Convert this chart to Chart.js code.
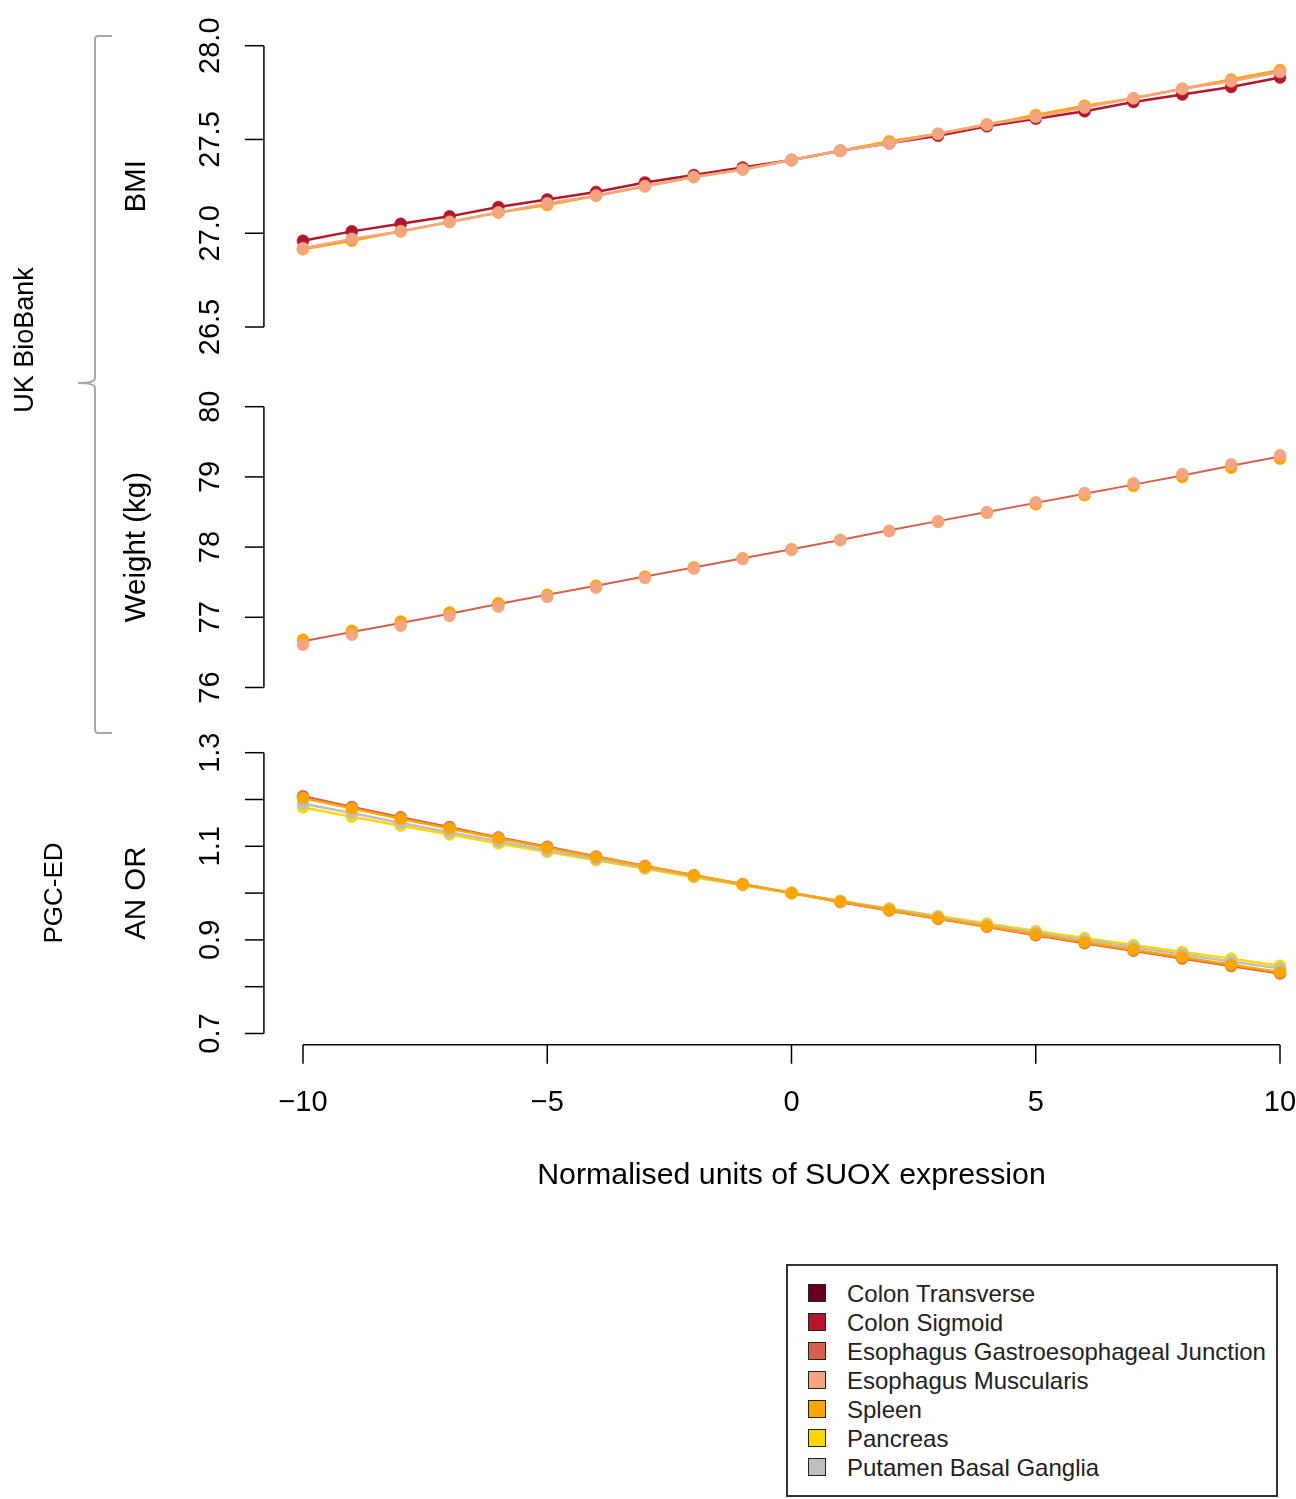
<!DOCTYPE html>
<html>
<head>
<meta charset="utf-8">
<script src="https://cdn.jsdelivr.net/npm/chart.js@4.4.1/dist/chart.umd.min.js"></script>
<style>
  html, body { margin: 0; padding: 0; background: #fff; }
  #wrap { position: relative; width: 1296px; height: 1499px; overflow: hidden; font-family: "Liberation Sans", Arial, Helvetica, sans-serif; }
  #wrap canvas { position: absolute; left: 0; top: 0; }
  #legend { position: absolute; left: 786px; top: 1264px; width: 492px; height: 233px; box-sizing: border-box; border: 2px solid #333; background: #fff; }
  .row { position: absolute; left: 0; height: 29px; width: 100%; }
  .sw { position: absolute; left: 20px; top: 5px; width: 18px; height: 18px; box-sizing: border-box; border: 1.5px solid #222; }
  .lab { position: absolute; left: 59px; top: 0; line-height: 29px; font-size: 24px; color: #222; white-space: nowrap; }
</style>
</head>
<body>
<div id="wrap">
  <canvas id="c1" width="1296" height="1499"></canvas>
  <canvas id="c2" width="1296" height="1499"></canvas>
  <canvas id="c3" width="1296" height="1499"></canvas>
  <div id="legend"></div>
</div>
<script>
// ---------------- data ----------------
const xValues = [-10,-9,-8,-7,-6,-5,-4,-3,-2,-1,0,1,2,3,4,5,6,7,8,9,10];
const xTicks = [-10,-5,0,5,10];
const xTickLabels = ['\u221210','\u22125','0','5','10'];
const xTitle = 'Normalised units of SUOX expression';

const tissues = ['Colon Transverse','Colon Sigmoid','Esophagus Gastroesophageal Junction','Esophagus Muscularis','Spleen','Pancreas','Putamen Basal Ganglia'];
const tissueColors = ['#67001F','#B2182B','#D6604D','#F4A582','#FFA500','#FFD700','#BEBEBE'];

// BMI panel
const bmiTicks = [26.5,27.0,27.5,28.0];
const bmiTickLabels = ['26.5','27.0','27.5','28.0'];
const bmiColonSigmoid = [26.96,27.01,27.05,27.09,27.14,27.18,27.22,27.27,27.31,27.35,27.39,27.44,27.48,27.52,27.57,27.61,27.65,27.70,27.74,27.78,27.83];
const bmiEsoMuscularis = [26.92,26.97,27.01,27.06,27.11,27.16,27.20,27.25,27.30,27.34,27.39,27.44,27.48,27.53,27.58,27.62,27.67,27.72,27.77,27.81,27.86];
const bmiSpleen = [26.915,26.96,27.01,27.06,27.11,27.15,27.20,27.25,27.30,27.34,27.39,27.44,27.49,27.53,27.58,27.63,27.68,27.72,27.77,27.82,27.87];

// Weight panel
const weightTicks = [76,77,78,79,80];
const weightTickLabels = ['76','77','78','79','80'];
const weightEsoGEJ = [76.66,76.79,76.92,77.05,77.19,77.32,77.45,77.58,77.71,77.84,77.97,78.10,78.24,78.37,78.50,78.63,78.76,78.89,79.02,79.16,79.29];
const weightEsoMuscularis = [76.61,76.75,76.88,77.02,77.15,77.29,77.42,77.56,77.69,77.83,77.96,78.10,78.23,78.37,78.50,78.64,78.77,78.91,79.04,79.18,79.31];
const weightSpleen = [76.68,76.81,76.94,77.07,77.20,77.32,77.45,77.58,77.71,77.84,77.97,78.10,78.23,78.36,78.49,78.61,78.74,78.87,79.00,79.13,79.26];

// AN OR panel
const anTicks = [0.7,0.8,0.9,1.0,1.1,1.2,1.3];
const anTickLabels = ['0.7','','0.9','','1.1','','1.3'];
const anEsoGEJ = [1.207,1.184,1.162,1.141,1.119,1.099,1.078,1.058,1.038,1.019,1.000,0.981,0.963,0.945,0.928,0.910,0.893,0.877,0.860,0.844,0.828];
const anSpleen = [1.203,1.181,1.159,1.138,1.117,1.097,1.077,1.057,1.038,1.019,1.000,0.982,0.964,0.946,0.929,0.912,0.895,0.879,0.863,0.847,0.831];
const anPancreas = [1.183,1.163,1.144,1.125,1.106,1.088,1.070,1.052,1.034,1.017,1.000,0.983,0.967,0.951,0.935,0.919,0.904,0.889,0.874,0.860,0.845];
const anPutamen = [1.191,1.171,1.150,1.130,1.111,1.091,1.073,1.054,1.036,1.018,1.000,0.983,0.966,0.949,0.932,0.916,0.900,0.885,0.869,0.854,0.839];

// --------------- helpers ---------------
const FONT = '"Liberation Sans", Arial, Helvetica, sans-serif';
function pts(arr){ return xValues.map((x,i)=>({x:x, y:arr[i]})); }
function ds(name, arr, opt){
  const c = tissueColors[tissues.indexOf(name)];
  return Object.assign({
    label: name, data: pts(arr), borderColor: c, backgroundColor: c,
    pointBackgroundColor: c, pointBorderColor: c, pointBorderWidth: 0.5,
    borderWidth: 2.5, pointRadius: 6, tension: 0, clip: false, showLine: true
  }, opt || {});
}

const rAxes = {
  id: 'rAxes',
  afterDraw(chart, args, o) {
    const ctx = chart.ctx, xs = chart.scales.x, ys = chart.scales.y;
    const xr = xs.max - xs.min, yr = ys.max - ys.min;
    const axX = xs.getPixelForValue(xs.min - 0.04 * xr);
    const axY = ys.getPixelForValue(ys.min - 0.04 * yr);
    ctx.save();
    ctx.strokeStyle = '#000'; ctx.lineWidth = 1.5; ctx.fillStyle = '#000';
    // y axis
    const yTop = ys.getPixelForValue(o.ticks[o.ticks.length-1]);
    const yBot = ys.getPixelForValue(o.ticks[0]);
    ctx.beginPath(); ctx.moveTo(axX, yTop); ctx.lineTo(axX, yBot); ctx.stroke();
    ctx.font = '29px ' + FONT; ctx.textAlign = 'center'; ctx.textBaseline = 'middle';
    o.ticks.forEach((t, i) => {
      const py = ys.getPixelForValue(t);
      ctx.beginPath(); ctx.moveTo(axX - 19, py); ctx.lineTo(axX, py); ctx.stroke();
      if (o.labels[i]) {
        ctx.save(); ctx.translate(axX - 53, py); ctx.rotate(-Math.PI/2);
        ctx.fillText(o.labels[i], 0, 0); ctx.restore();
      }
    });
    // y title
    ctx.save(); ctx.translate(axX - 127, (yTop + yBot) / 2); ctx.rotate(-Math.PI/2);
    ctx.font = '29.5px ' + FONT; ctx.fillText(o.title, 0, 0); ctx.restore();
    if (o.xAxis) {
      const xl = xs.getPixelForValue(xTicks[0]), xrp = xs.getPixelForValue(xTicks[xTicks.length-1]);
      ctx.beginPath(); ctx.moveTo(xl, axY); ctx.lineTo(xrp, axY); ctx.stroke();
      ctx.font = '29px ' + FONT;
      xTicks.forEach((t, i) => {
        const px = xs.getPixelForValue(t);
        ctx.beginPath(); ctx.moveTo(px, axY); ctx.lineTo(px, axY + 19); ctx.stroke();
        ctx.fillText(xTickLabels[i], px, axY + 58);
      });
      ctx.font = '30.3px ' + FONT;
      ctx.fillText(xTitle, (xl + xrp) / 2, axY + 131);
      // outer group labels and brace
      ctx.fillStyle = '#000';
      ctx.font = '27px ' + FONT;
      ctx.save(); ctx.translate(26, 340); ctx.rotate(-Math.PI/2); ctx.fillText('UK BioBank', 0, 0); ctx.restore();
      ctx.font = '26px ' + FONT;
      ctx.save(); ctx.translate(55, 893); ctx.rotate(-Math.PI/2); ctx.fillText('PGC-ED', 0, 0); ctx.restore();
      ctx.strokeStyle = '#A8A8A8'; ctx.lineWidth = 2;
      ctx.beginPath();
      ctx.moveTo(112, 36); ctx.lineTo(98, 36); ctx.quadraticCurveTo(95, 36, 95, 40);
      ctx.lineTo(95, 378); ctx.quadraticCurveTo(95, 383, 78, 383);
      ctx.moveTo(78, 383); ctx.quadraticCurveTo(95, 383, 95, 388);
      ctx.lineTo(95, 729); ctx.quadraticCurveTo(95, 733, 98, 733); ctx.lineTo(112, 733);
      ctx.stroke();
    }
    ctx.restore();
  }
};

function makeChart(id, datasets, yMin, yMax, top, bottom, axOpts) {
  return new Chart(document.getElementById(id), {
    type: 'line',
    data: { datasets: datasets },
    options: {
      responsive: false, animation: false, devicePixelRatio: 1,
      layout: { padding: { left: 303, right: 16, top: top, bottom: 1499 - bottom } },
      plugins: { legend: { display: false }, tooltip: { enabled: false }, rAxes: axOpts },
      scales: {
        x: { type: 'linear', min: -10, max: 10, display: false },
        y: { type: 'linear', min: yMin, max: yMax, display: false }
      }
    },
    plugins: [rAxes]
  });
}

// BMI (index 0 drawn on top)
makeChart('c1', [
  ds('Esophagus Muscularis', bmiEsoMuscularis),
  ds('Spleen', bmiSpleen),
  ds('Colon Sigmoid', bmiColonSigmoid)
], 26.5, 28.0, 45.7, 327, { ticks: bmiTicks, labels: bmiTickLabels, title: 'BMI' });

// Weight
makeChart('c2', [
  ds('Esophagus Muscularis', weightEsoMuscularis, { showLine: false }),
  ds('Spleen', weightSpleen, { showLine: false }),
  ds('Esophagus Gastroesophageal Junction', weightEsoGEJ, { borderWidth: 2, pointRadius: 0 })
], 76, 80, 406.7, 687.5, { ticks: weightTicks, labels: weightTickLabels, title: 'Weight (kg)' });

// AN OR
makeChart('c3', [
  ds('Spleen', anSpleen),
  ds('Putamen Basal Ganglia', anPutamen),
  ds('Pancreas', anPancreas),
  ds('Esophagus Gastroesophageal Junction', anEsoGEJ)
], 0.7, 1.3, 752.7, 1033.5, { ticks: anTicks, labels: anTickLabels, title: 'AN OR', xAxis: true });

// legend
const lg = document.getElementById('legend');
tissues.forEach((t, i) => {
  const r = document.createElement('div'); r.className = 'row'; r.style.top = (13 + i * 29) + 'px';
  const s = document.createElement('div'); s.className = 'sw'; s.style.background = tissueColors[i];
  const l = document.createElement('div'); l.className = 'lab'; l.textContent = t;
  r.appendChild(s); r.appendChild(l); lg.appendChild(r);
});
</script>
</body>
</html>
